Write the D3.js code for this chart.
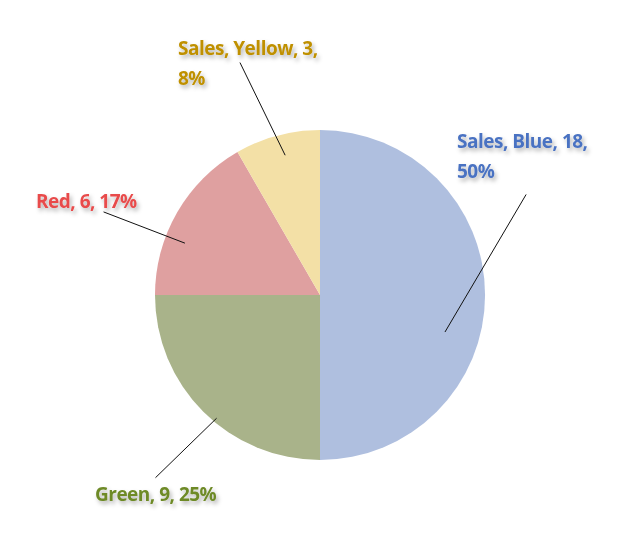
<!DOCTYPE html>
<html><head><meta charset="utf-8">
<script src="https://cdn.jsdelivr.net/npm/d3@7"></script>
<style>body{margin:0;background:#fff}</style>
</head><body>
<svg id="c" width="639" height="557"></svg>
<script>
const categories = ["Blue", "Green", "Red", "Yellow"];
const values = [18, 9, 6, 3];
const labelTexts = [["Sales, Blue, 18,", "50%"], ["Green, 9, 25%"], ["Red, 6, 17%"], ["Sales, Yellow, 3,", "8%"]];

// styling / layout (not data)
const fills = ["#AFBFDF", "#A9B38A", "#DFA0A0", "#F3E0A6"];
const textColors = ["#4A72C2", "#6E8A28", "#E84B4B", "#BF9000"];
// leader: inner point (angle deg, radius factor), outer point (angle deg, radius factor)
const leaders = [
  {ia:106.5, ir:0.79, oa:64, or:1.39},
  {ia:220, ir:0.975, oa:222, or:1.49},
  {ia:291, ir:0.877, oa:291, or:1.405},
  {ia:346, ir:0.873, oa:341, or:1.49}
];
// label anchor offsets from centre (left x, first baseline)
const labelPos = [[137,-147],[-225,206],[-284,-87],[-142,-240]];

const W = 639, H = 557, cx = 320, cy = 295, R = 165;
const svg = d3.select("#c");
const defs = svg.append("defs");
const f = defs.append("filter").attr("id","sh").attr("x","-10%").attr("y","-30%").attr("width","130%").attr("height","180%");
f.append("feDropShadow").attr("dx",2).attr("dy",3).attr("stdDeviation",2).attr("flood-color","#000").attr("flood-opacity",0.3);

const pie = d3.pie().sort(null).value(d => d);
const arcs = pie(values);
const arc = d3.arc().innerRadius(0).outerRadius(R);
const g = svg.append("g").attr("transform", `translate(${cx},${cy})`);
g.selectAll("path.s").data(arcs).join("path").attr("class","s")
  .attr("d", arc).attr("fill", (d,i) => fills[i]);

const pt = (a, r) => [Math.sin(a*Math.PI/180)*r, -Math.cos(a*Math.PI/180)*r];
g.selectAll("line.l").data(arcs).join("line").attr("class","l")
  .each(function(d,i){
    const L = leaders[i];
    const p1 = pt(L.ia, L.ir*R), p2 = pt(L.oa, L.or*R);
    d3.select(this).attr("x1",p1[0]).attr("y1",p1[1]).attr("x2",p2[0]).attr("y2",p2[1]);
  })
  .attr("stroke","#111").attr("stroke-width",1);

g.selectAll("text.t").data(arcs).join("text").attr("class","t")
  .attr("x",(d,i)=>labelPos[i][0]).attr("y",(d,i)=>labelPos[i][1])
  .attr("fill",(d,i)=>textColors[i])
  .attr("font-family","'Open Sans', sans-serif").attr("font-weight",700).attr("font-size",19)
  .attr("letter-spacing",-0.5)
  .attr("filter","url(#sh)")
  .each(function(d,i){
    const t = d3.select(this);
    labelTexts[i].forEach((s,k)=>{
      t.append("tspan").attr("x",labelPos[i][0]).attr("dy",k?30:0).text(s);
    });
  });
</script>
</body></html>
